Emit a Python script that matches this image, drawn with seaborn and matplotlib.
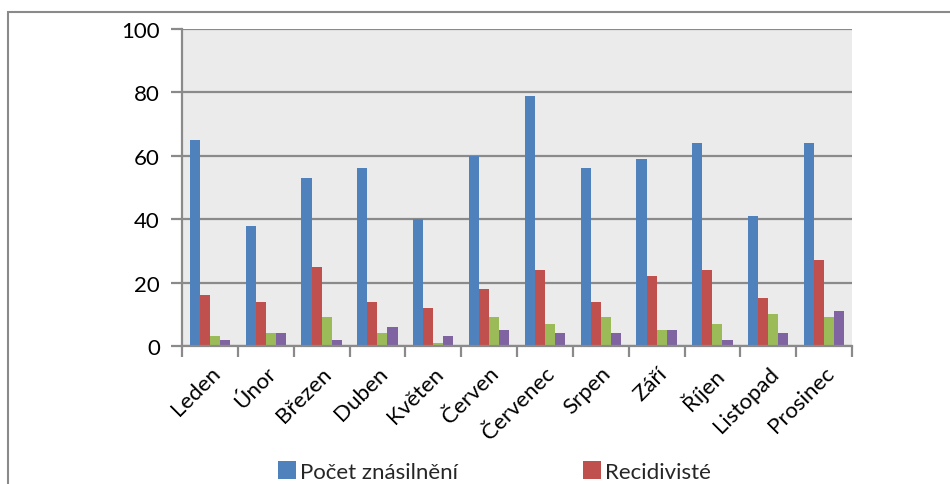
import matplotlib
matplotlib.use("Agg")
import matplotlib.pyplot as plt
import seaborn as sns
import pandas as pd
from matplotlib.patches import Rectangle
from matplotlib.lines import Line2D

months = ["Leden", "Únor", "Březen", "Duben", "Květen", "Červen",
          "Červenec", "Srpen", "Září", "Říjen", "Listopad", "Prosinec"]
pocet = [65, 38, 53, 56, 40, 60, 79, 56, 59, 64, 41, 64]
recidiviste = [16, 14, 25, 14, 12, 18, 24, 14, 22, 24, 15, 27]
serie3 = [3, 4, 9, 4, 1, 9, 7, 9, 5, 7, 10, 9]
serie4 = [2, 4, 2, 6, 3, 5, 4, 4, 5, 2, 4, 11]
series_names = ["Počet znásilnění", "Recidivisté", "Řada 3", "Řada 4"]
colors = ["#4F81BD", "#C0504D", "#9BBB59", "#8064A2"]
yticks = [0, 20, 40, 60, 80, 100]

rows = []
for name, vals in zip(series_names, [pocet, recidiviste, serie3, serie4]):
    for m, v in zip(months, vals):
        rows.append({"Měsíc": m, "Řada": name, "Hodnota": v})
df = pd.DataFrame(rows)

sns.set_theme(style="white")
plt.rcParams["font.family"] = ["Lato", "DejaVu Sans"]

fig = plt.figure(figsize=(9.5, 4.85), dpi=100)
ax = fig.add_axes([182/950, 1-347/485, (852-182)/950, (347-30)/485])

sns.barplot(data=df, x="Měsíc", y="Hodnota", hue="Řada", order=months,
            hue_order=series_names, palette=colors, width=0.72, gap=0,
            saturation=1, linewidth=0, ax=ax, legend=False)

ax.set_facecolor("#ebebeb")
ax.set_ylim(0, 100)
ax.set_yticks(yticks)
ax.set_xlim(-0.5, len(months) - 0.5)
ax.set_xlabel("")
ax.set_ylabel("")
ax.yaxis.grid(True, color="#8a8a8a", linewidth=1.6)
ax.set_axisbelow(True)
for s in ["top", "right"]:
    ax.spines[s].set_visible(False)
for s in ["left", "bottom"]:
    ax.spines[s].set_color("#8a8a8a")
    ax.spines[s].set_linewidth(1.6)

ax.tick_params(axis="y", which="major", direction="out", length=8, width=1.6,
               color="#8a8a8a", labelsize=16, labelcolor="black", pad=8, left=True)
# x ticks: label at centre, tick marks at category boundaries
ax.set_xticks(range(len(months)))
ax.set_xticklabels(months, rotation=45, ha="right", rotation_mode="anchor",
                   fontsize=16, color="black")
ax.tick_params(axis="x", which="major", length=0, pad=12)
ax.set_xticks([i - 0.5 for i in range(len(months) + 1)], minor=True)
ax.tick_params(axis="x", which="minor", direction="out", length=8, width=1.6,
               color="#8a8a8a", bottom=True)

# outer chart frame (cut off at right and bottom)
fig.patches.append(Rectangle((8/950, -0.2), 1.2, 1.2 - 13/485,
                             transform=fig.transFigure, fill=False,
                             edgecolor="#8a8a8a", linewidth=1.5))

handles = [Line2D([0], [0], marker="s", linestyle="", markersize=13,
                  markerfacecolor=c, markeredgewidth=0) for c in colors[:2]]
fig.legend(handles, series_names[:2], loc="center left",
           bbox_to_anchor=(276/950, 1-473/485), ncol=2, frameon=False,
           fontsize=16, handletextpad=0.1, columnspacing=5.5,
           handlelength=1.0, borderaxespad=0, borderpad=0)

fig.savefig("out.png", dpi=100)
